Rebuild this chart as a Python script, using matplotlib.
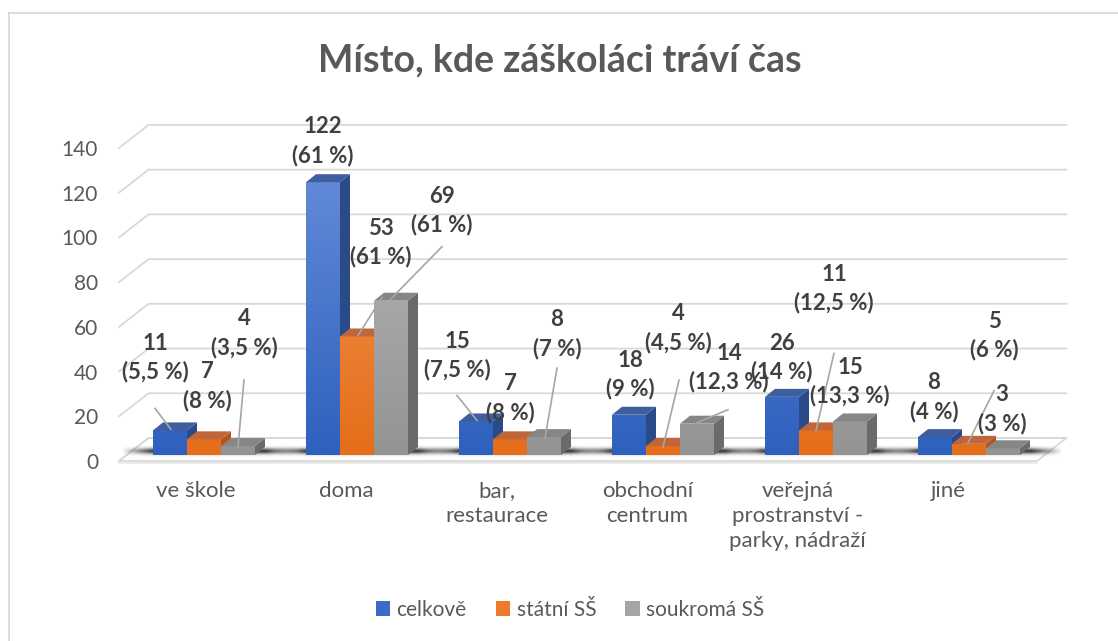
import numpy as np
import matplotlib
matplotlib.use("Agg")
import matplotlib.pyplot as plt
from matplotlib.patches import Polygon, Rectangle, Patch
from matplotlib.colors import LinearSegmentedColormap
from matplotlib.lines import Line2D

# ---------------- data ----------------
title = "Místo, kde záškoláci tráví čas"
categories = ["ve škole", "doma", "bar,\nrestaurace", "obchodní\ncentrum",
              "veřejná\nprostranství -\nparky, nádraží", "jiné"]
series_names = ["celkově", "státní SŠ", "soukromá SŠ"]
celkove = [11, 122, 15, 18, 26, 8]
statni = [7, 53, 7, 4, 11, 5]
soukroma = [4, 69, 8, 14, 15, 3]
pct_celkove = ["5,5 %", "61 %", "7,5 %", "9 %", "14 %", "4 %"]
pct_statni = ["8 %", "61 %", "8 %", "4,5 %", "12,5 %", "6 %"]
pct_soukroma = ["3,5 %", "61 %", "7 %", "12,3 %", "13,3 %", "3 %"]
y_ticks = [0, 20, 40, 60, 80, 100, 120, 140]

series_values = [celkove, statni, soukroma]
series_pcts = [pct_celkove, pct_statni, pct_soukroma]

# ---------------- style ----------------
FONT = "Lato"
plt.rcParams["font.family"] = [FONT, "DejaVu Sans"]
TXT = "#595959"
LBL = "#404040"
GRID = "#D9D9D9"
front_top = ["#6189D7", "#F49450", "#B5B5B5"]
front_bot = ["#2E60BE", "#E46E1A", "#949494"]
top_col = ["#3F5E9E", "#C0663A", "#868686"]
side_col = ["#2B4A88", "#B2561C", "#6A6A6A"]
legend_col = ["#3B6BC8", "#EE7B2C", "#A5A5A5"]

W, H, DPI = 1118, 641, 100
fig = plt.figure(figsize=(W / DPI, H / DPI), dpi=DPI)
fig.patch.set_facecolor("white")

# geometry (pixels)
X0, SX = 204.0, 153.0      # pixel x of category 0 centre, px per category
Y0, SY = 455.0, 2.236      # pixel y (from top) of value 0 on bar plane, px per unit
XL, XR = -0.7, 5.8
YB, YT = -8.0, 160.0
lp = X0 + SX * XL
rp = X0 + SX * XR
bp = Y0 - SY * YB
tp = Y0 - SY * YT
ax = fig.add_axes([lp / W, 1 - bp / H, (rp - lp) / W, (bp - tp) / H])
ax.set_xlim(XL, XR)
ax.set_ylim(YB, YT)
ax.axis("off")

def px(dx, dy):
    """pixel offset (right, up) -> data offset"""
    return dx / SX, dy / SY

n = len(categories)
bw = 34 / SX
dep_x, dep_y = px(10, 8)
fr_x, fr_y = px(-8.5, -6)
bk_x, bk_y = px(21, 17)
xa, xb = -0.5, n - 0.5

# frame of chart area
fig.add_artist(Line2D([9 / W, 1], [1 - 13 / H, 1 - 13 / H], color=GRID, lw=1.3))
fig.add_artist(Line2D([9 / W, 9 / W], [1 - 13 / H, 0], color=GRID, lw=1.3))

# floor
floor = Polygon([(xa + fr_x, fr_y), (xb + fr_x, fr_y), (xb + bk_x, bk_y), (xa + bk_x, bk_y)],
                closed=True, facecolor="white", edgecolor=GRID, lw=1.3, zorder=1)
ax.add_patch(floor)
ax.plot([xa + fr_x, xb + fr_x], [fr_y - 0.9, fr_y - 0.9], color="#E8E8E8", lw=1.2, zorder=1)

# gridlines + tick labels
for v in y_ticks:
    ax.plot([xa + fr_x, xa + bk_x, xb + bk_x], [v + fr_y, v + bk_y, v + bk_y],
            color=GRID, lw=1.3, zorder=1, solid_joinstyle="miter")
    tx, _ = px(-21, 0)
    ax.text(xa + fr_x + tx, v + fr_y, str(v), ha="right", va="center_baseline",
            fontsize=15, color=TXT, family=FONT)

# shadows under groups
for i in range(n):
    gl = i - 1.5 * bw - 32 / SX
    gr = i + 1.5 * bw + 42 / SX
    yy = np.linspace(-1, 1, 40)[:, None]
    xx = np.linspace(0, 1, 200)[None, :]
    taper = np.clip(np.minimum(xx, 1 - xx) / 0.18, 0, 1)
    alpha = 0.95 * np.exp(-(yy / 0.5) ** 2) * taper
    img = np.zeros((40, 200, 4))
    img[..., :3] = 0.2
    img[..., 3] = alpha
    yc = px(0, 4)[1]
    hh = px(0, 6)[1]
    ax.imshow(img, extent=[gl, gr, yc - hh, yc + hh], origin="lower",
              aspect="auto", interpolation="bilinear", zorder=2)

# bars
VMAX = max(max(s) for s in series_values)
for i in range(n):
    for s in range(3):
        v = series_values[s][i]
        x0 = i + (s - 1.5) * bw
        cmap = LinearSegmentedColormap.from_list("g", [front_bot[s], front_top[s]])
        rect = Rectangle((x0, 0), bw, v, facecolor="none", edgecolor="none", zorder=3)
        ax.add_patch(rect)
        grad = np.linspace(0, 1, 256)[:, None]
        im = ax.imshow(grad, cmap=cmap, extent=[x0, x0 + bw, 0, VMAX], origin="lower",
                       aspect="auto", zorder=3, interpolation="bilinear")
        im.set_clip_path(rect)
        top = Polygon([(x0, v), (x0 + bw, v), (x0 + bw + dep_x, v + dep_y), (x0 + dep_x, v + dep_y)],
                      closed=True, facecolor=top_col[s], edgecolor="none", zorder=3)
        side = Polygon([(x0 + bw, 0), (x0 + bw + dep_x, dep_y), (x0 + bw + dep_x, v + dep_y), (x0 + bw, v)],
                       closed=True, facecolor=side_col[s], edgecolor="none", zorder=3)
        ax.add_patch(side)
        ax.add_patch(top)
        z = 3 + 0.01 * (i * 3 + s)
        for a in (im, top, side):
            a.set_zorder(z)

ax.set_xlim(XL, XR)
ax.set_ylim(YB, YT)

# data labels (pixel offsets from front-top centre of each bar)
label_off = [
    [(-15, 73), (0, 41), (-19, 66), (1, 40), (0, 39), (-1, 40)],
    [(3, 53), (24, 94), (0, 41), (15, 118), (18, 142), (25, 108)],
    [(6, 113), (51, 90), (13, 103), (32, 56), (0, 40), (-1, 39)],
]
leaders = {
    (0, 0): ((-15, 22), (1, 1)),
    (2, 0): ((6, 66), (0, -1)),
    (1, 1): ((25, 39), (1, 1)),
    (2, 1): ((51, 54), (-1, 1)),
    (0, 2): ((-19, 26), (1, 1)),
    (2, 2): ((13, 69), (1, -1)),
    (1, 3): ((16, 66), (0, -1)),
    (2, 3): ((31, 14), (0, 1)),
    (1, 4): ((18, 77), (0, 0)),
    (1, 5): ((25, 53), (-1, 1)),
}
for i in range(n):
    for s in range(3):
        v = series_values[s][i]
        cx = i + (s - 1) * bw
        ox, oy = px(*label_off[s][i])
        ax.text(cx + ox, v + oy, f"{v}\n({series_pcts[s][i]})", ha="center", va="center",
                fontsize=16, fontweight="bold", color=LBL, linespacing=1.4, zorder=10)
        if (s, i) in leaders:
            (ax1, ay1), (ax2, ay2) = leaders[(s, i)]
            p1 = px(ax1, ay1)
            p2 = px(ax2, ay2)
            ax.plot([cx + p1[0], cx + p2[0]], [v + p1[1], v + p2[1]],
                    color="#A6A6A6", lw=1.2, zorder=9)

# category labels
for i, c in enumerate(categories):
    lx = (196 + 150.4 * i - X0) / SX
    ax.text(lx, px(0, -26)[1], c, ha="center", va="top", fontsize=16, color=TXT,
            linespacing=1.32, multialignment="center")

# title
fig.text(560 / W, 1 - 60 / H, title, ha="center", va="center", fontsize=27,
         fontweight="bold", color=TXT)

# legend
handles = [Patch(facecolor=legend_col[k], edgecolor="none") for k in range(3)]
fig.legend(handles, series_names, loc="center", bbox_to_anchor=(570 / W, 1 - 610 / H),
           ncol=3, frameon=False, fontsize=15, handlelength=0.7, handleheight=0.7,
           handletextpad=0.3, columnspacing=1.4, labelcolor=TXT)

fig.savefig("out.png", dpi=DPI)
